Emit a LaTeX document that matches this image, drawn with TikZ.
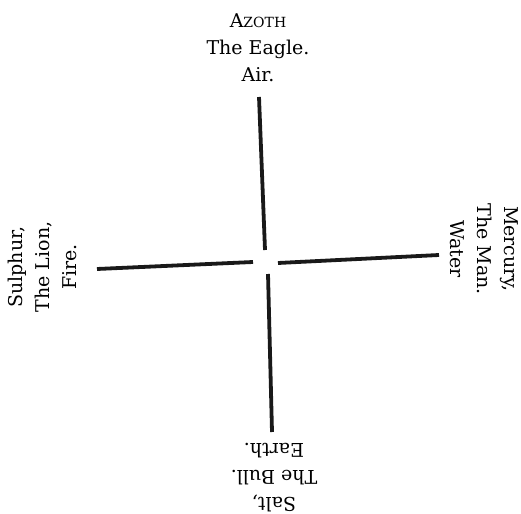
\documentclass[tikz,border=0pt]{standalone}
\usepackage{fontspec}
\setmainfont{DejaVu Serif}
\begin{document}
\begin{tikzpicture}[x=1pt,y=-1pt,
  arm/.style={line width=3.8pt,draw=black!90},
  lbl/.style={align=center,inner sep=0pt,text=black,
    font=\fontsize{19}{27}\selectfont}]
\useasboundingbox (0,0) rectangle (521,513);
% arm end points
\coordinate (t1) at (259,97);
\coordinate (t2) at (265,250);
\coordinate (b1) at (268,274);
\coordinate (b2) at (272,432);
\coordinate (l1) at (97,269);
\coordinate (l2) at (253,262);
\coordinate (r1) at (278,263);
\coordinate (r2) at (439,255);
\draw[arm] (t1) -- (t2);
\draw[arm] (b1) -- (b2);
\draw[arm] (l1) -- (l2);
\draw[arm] (r1) -- (r2);
% labels
\node[lbl] (top) at (258,48) {A{\fontsize{14}{27}\selectfont ZOTH}\\The Eagle.\\Air.};
\node[lbl,rotate=90] (left) at (42,267) {Sulphur,\\The Lion,\\Fire.};
\node[lbl,rotate=-90] (right) at (484,249) {Mercury,\\The Man.\\Water};
\node[lbl,rotate=180] (bottom) at (274,478) {Salt,\\The Bull.\\Earth.};
\end{tikzpicture}
\end{document}
